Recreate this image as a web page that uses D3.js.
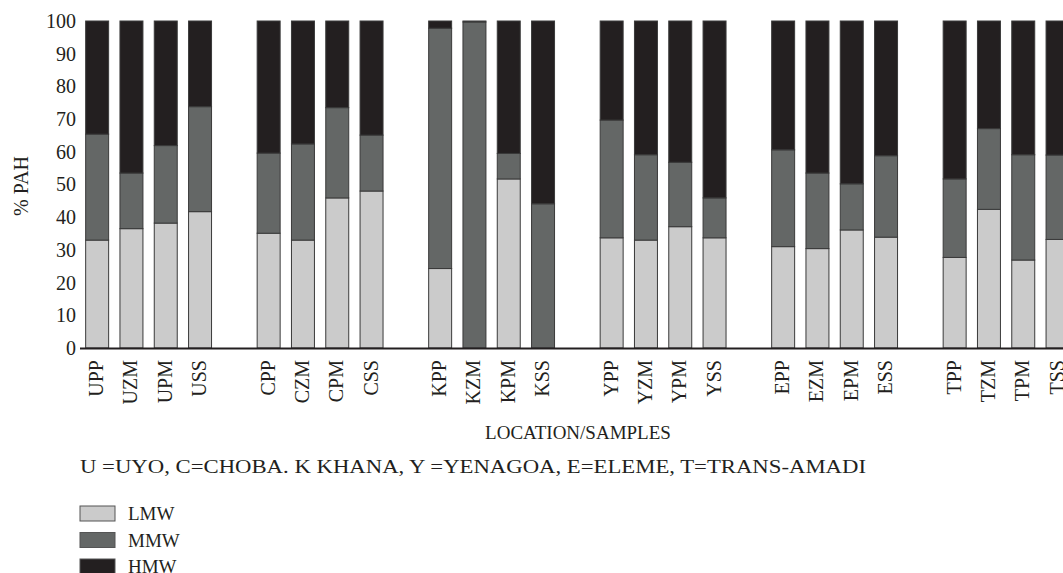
<!DOCTYPE html>
<html>
<head>
<meta charset="utf-8">
<script src="https://cdn.jsdelivr.net/npm/d3@7"></script>
<style>
  html, body { margin: 0; padding: 0; background: #fff; }
  svg { display: block; font-family: "Liberation Serif", "DejaVu Serif", serif; }
</style>
</head>
<body>
<svg id="chart" width="1063" height="573"></svg>
<script>
// ---- data ----
const groups = ["U", "C", "K", "Y", "E", "T"];
const categories = [
  "UPP", "UZM", "UPM", "USS",
  "CPP", "CZM", "CPM", "CSS",
  "KPP", "KZM", "KPM", "KSS",
  "YPP", "YZM", "YPM", "YSS",
  "EPP", "EZM", "EPM", "ESS",
  "TPP", "TZM", "TPM", "TSS"
];
const lmw = [
  33.0, 36.5, 38.2, 41.7,
  35.1, 33.0, 45.9, 48.0,
  24.3, 0.0, 51.7, 0.0,
  33.7, 33.0, 37.1, 33.7,
  31.0, 30.4, 36.1, 33.9,
  27.7, 42.4, 26.9, 33.2
];
const mmw = [
  32.4, 17.0, 23.7, 32.1,
  24.5, 29.4, 27.6, 17.1,
  73.5, 99.7, 7.8, 44.1,
  36.0, 26.1, 19.7, 12.2,
  29.6, 23.1, 14.1, 24.9,
  24.0, 24.7, 32.2, 25.8
];
const hmw = [
  34.6, 46.5, 38.1, 26.2,
  40.4, 37.6, 26.5, 34.9,
  2.2, 0.3, 40.5, 55.9,
  30.3, 40.9, 43.2, 54.1,
  39.4, 46.5, 49.8, 41.2,
  48.3, 32.9, 40.9, 41.0
];
const seriesNames = ["LMW", "MMW", "HMW"];
const seriesColors = ["#cbcbcb", "#646766", "#231f20"];
const yTicks = [0, 10, 20, 30, 40, 50, 60, 70, 80, 90, 100];
const yTitle = "% PAH";
const xTitle = "LOCATION/SAMPLES";
const caption = "U =UYO, C=CHOBA. K KHANA, Y =YENAGOA, E=ELEME, T=TRANS-AMADI";

// ---- build table ----
const rows = categories.map((c, i) => ({ cat: c, LMW: lmw[i], MMW: mmw[i], HMW: hmw[i] }));
// slot domain: 4 bars per group, an empty slot between groups
const slots = [];
groups.forEach((g, gi) => {
  categories.filter(c => c[0] === g).forEach(c => slots.push(c));
  if (gi < groups.length - 1) slots.push("_gap" + gi);
});

const svg = d3.select("#chart");
svg.append("rect").attr("width", 1063).attr("height", 573).attr("fill", "#fff");

const x0 = 80, yBase = 348, yTop = 21;
const step = 34.3;
const x = d3.scaleBand()
  .domain(slots)
  .range([x0, x0 + slots.length * step])
  .paddingInner(0.33)
  .paddingOuter(0.165);
const y = d3.scaleLinear().domain([0, 100]).range([yBase, yTop]);

const stack = d3.stack().keys(seriesNames)(rows);
const color = d3.scaleOrdinal().domain(seriesNames).range(seriesColors);

const plot = svg.append("g");
plot.selectAll("g.series")
  .data(stack)
  .join("g")
  .attr("class", "series")
  .attr("fill", d => color(d.key))
  .selectAll("rect")
  .data(d => d.filter(p => p[1] - p[0] > 0))
  .join("rect")
  .attr("x", d => x(d.data.cat))
  .attr("width", x.bandwidth())
  .attr("y", d => y(d[1]))
  .attr("height", d => y(d[0]) - y(d[1]))
  .attr("stroke", "#3a3a3a")
  .attr("stroke-width", 1);

// y axis (labels only)
const yAxis = svg.append("g")
  .attr("transform", `translate(${x0},0)`)
  .call(d3.axisLeft(y).tickValues(yTicks).tickSize(0).tickPadding(4));
yAxis.select(".domain").remove();
yAxis.selectAll("text")
  .attr("font-family", "Liberation Serif, serif")
  .attr("font-size", 20)
  .attr("fill", "#231f20");

// x axis
const xAxis = svg.append("g")
  .attr("transform", `translate(0,${yBase})`)
  .call(d3.axisBottom(x).tickSize(0).tickFormat(d => d.startsWith("_gap") ? "" : d));
xAxis.select(".domain").remove();
xAxis.selectAll("text")
  .attr("font-family", "Liberation Serif, serif")
  .attr("font-size", 20)
  .attr("fill", "#231f20")
  .attr("transform", "rotate(-90)")
  .attr("text-anchor", "end")
  .attr("x", -12)
  .attr("y", 0)
  .attr("dy", "0.3em");
svg.append("line")
  .attr("x1", x0).attr("x2", 1063)
  .attr("y1", yBase + 0.5).attr("y2", yBase + 0.5)
  .attr("stroke", "#231f20").attr("stroke-width", 2);

// titles
svg.append("text")
  .attr("transform", `translate(21,186) rotate(-90)`)
  .attr("text-anchor", "middle")
  .attr("dy", "0.35em")
  .attr("font-size", 20)
  .attr("fill", "#231f20")
  .text(yTitle);

svg.append("text")
  .attr("x", 578).attr("y", 432)
  .attr("text-anchor", "middle")
  .attr("dy", "0.35em")
  .attr("font-size", 19)
  .attr("fill", "#231f20")
  .text(xTitle);

svg.append("text")
  .attr("x", 80).attr("y", 466)
  .attr("dy", "0.35em")
  .attr("font-size", 19)
  .attr("fill", "#231f20")
  .attr("textLength", 786)
  .attr("lengthAdjust", "spacingAndGlyphs")
  .text(caption);

// legend
const legend = svg.append("g").attr("transform", "translate(80,506)");
const li = legend.selectAll("g")
  .data(seriesNames)
  .join("g")
  .attr("transform", (d, i) => `translate(0,${i * 26.5})`);
li.append("rect")
  .attr("width", 35).attr("height", 15)
  .attr("fill", d => color(d))
  .attr("stroke", "#555").attr("stroke-width", 1);
li.append("text")
  .attr("x", 48).attr("y", 7.5)
  .attr("dy", "0.35em")
  .attr("font-size", 19)
  .attr("fill", "#231f20")
  .text(d => d);
</script>
</body>
</html>
